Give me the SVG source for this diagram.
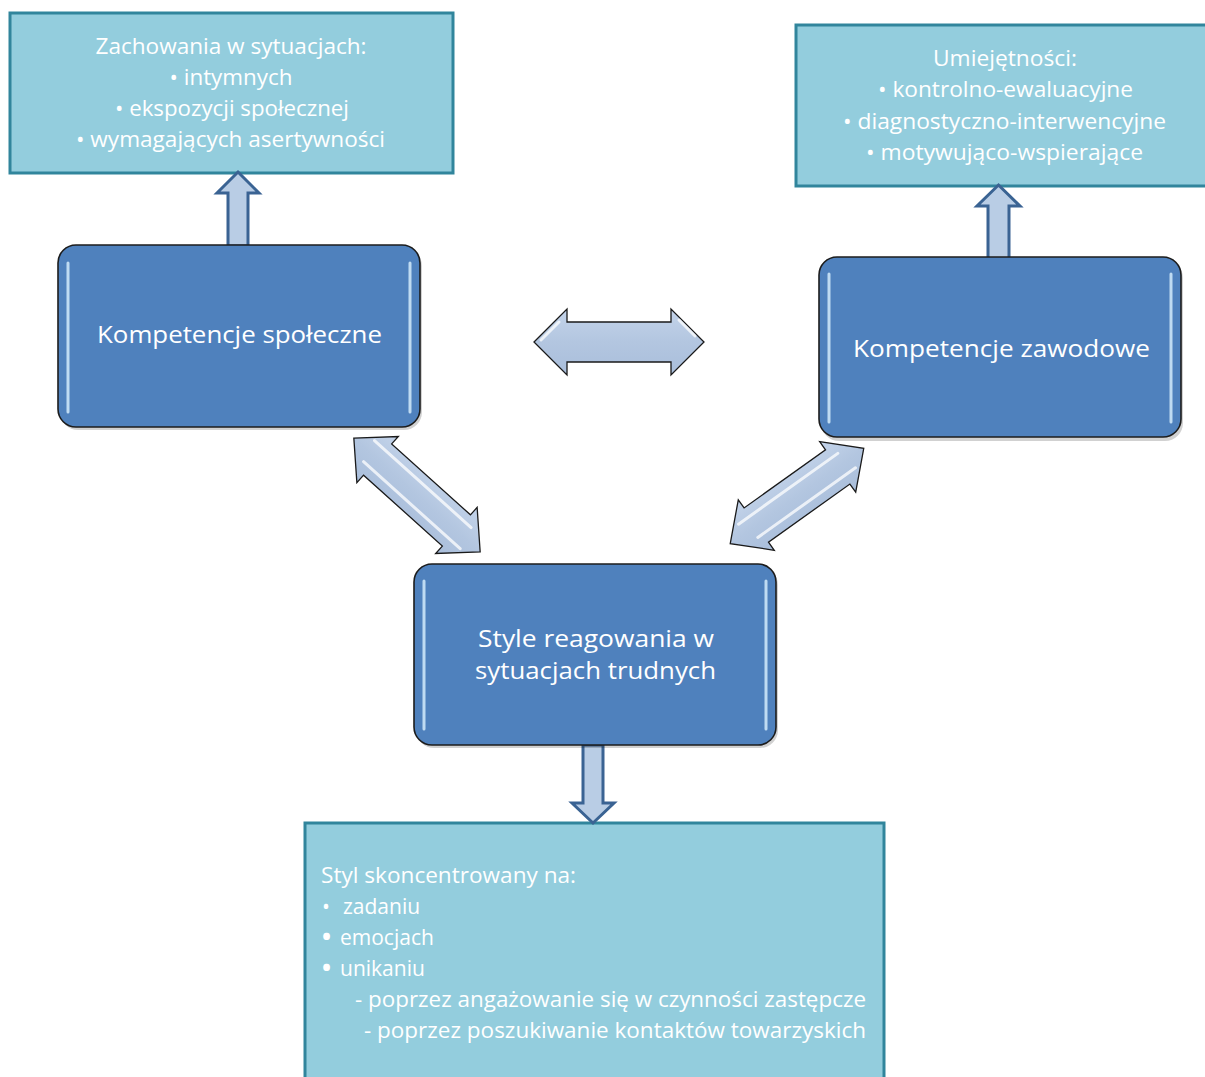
<svg xmlns="http://www.w3.org/2000/svg" width="1205" height="1077" viewBox="0 0 1205 1077">
<style>
.lbox{fill:#93CDDD;stroke:#31859C;stroke-width:3}
.node{fill:#4F81BD;stroke:#1c1c1c;stroke-width:1.6}
.shadow{fill:#000;opacity:0.18}
.hl{stroke:#d2ebfb;stroke-width:3;stroke-linecap:round;opacity:0.85;fill:none}
.t{font-family:"Open Sans","Noto Sans","Liberation Sans",sans-serif;fill:#ffffff}
.s22{font-size:21px}
.s24{font-size:23px}
.c{text-anchor:middle}
.bb{font-weight:bold;font-size:24px}
.blk{fill:#B9CDE5;stroke:#3A6393;stroke-width:3;stroke-linejoin:miter}
.dbl{fill:url(#ag);stroke:#1a1a1a;stroke-width:1.3;stroke-linejoin:miter}
.dhl{stroke:#ffffff;stroke-width:3;stroke-linecap:round;opacity:0.75;fill:none}
</style>
<defs>
<linearGradient id="ag" x1="0" y1="0" x2="0" y2="1">
<stop offset="0" stop-color="#c4d4ea"/>
<stop offset="0.5" stop-color="#b3c6e0"/>
<stop offset="1" stop-color="#a9bedb"/>
</linearGradient>
<linearGradient id="ng" x1="0" y1="0" x2="0" y2="1">
<stop offset="0" stop-color="#5586c2"/>
<stop offset="0.15" stop-color="#4F81BD"/>
<stop offset="1" stop-color="#4C7EBA"/>
</linearGradient>
</defs>

<g id="box-zachowania">
<rect class="lbox" x="10" y="13" width="443" height="160"/>
<text class="t s22 c" x="231" y="54" textLength="271" lengthAdjust="spacingAndGlyphs">Zachowania w sytuacjach:</text>
<text class="t s22 c" x="231" y="85" textLength="123" lengthAdjust="spacingAndGlyphs">• intymnych</text>
<text class="t s22 c" x="232" y="116" textLength="234" lengthAdjust="spacingAndGlyphs">• ekspozycji społecznej</text>
<text class="t s22 c" x="230.5" y="147" textLength="309" lengthAdjust="spacingAndGlyphs">• wymagających asertywności</text>
</g>

<g id="box-umiejetnosci">
<rect class="lbox" x="796" y="25" width="420" height="161"/>
<text class="t s22 c" x="1005" y="66" textLength="144" lengthAdjust="spacingAndGlyphs">Umiejętności:</text>
<text class="t s22 c" x="1005.5" y="97" textLength="255" lengthAdjust="spacingAndGlyphs">• kontrolno-ewaluacyjne</text>
<text class="t s22 c" x="1004.5" y="129" textLength="323" lengthAdjust="spacingAndGlyphs">• diagnostyczno-interwencyjne</text>
<text class="t s22 c" x="1004.5" y="160" textLength="277" lengthAdjust="spacingAndGlyphs">• motywująco-wspierające</text>
</g>

<g id="box-styl">
<rect class="lbox" x="305" y="823" width="579" height="262"/>
<text class="t s22" x="321" y="883" textLength="255" lengthAdjust="spacingAndGlyphs">Styl skoncentrowany na:</text>
<text class="t s22" y="914"><tspan x="322">•</tspan><tspan x="343">zadaniu</tspan></text>
<text class="t s22" y="945"><tspan x="322" class="bb">•</tspan><tspan x="340">emocjach</tspan></text>
<text class="t s22" y="976"><tspan x="322" class="bb">•</tspan><tspan x="340">unikaniu</tspan></text>
<text class="t s22" x="355" y="1007" textLength="511" lengthAdjust="spacingAndGlyphs">- poprzez angażowanie się w czynności zastępcze</text>
<text class="t s22" x="364" y="1038" textLength="502" lengthAdjust="spacingAndGlyphs">- poprzez poszukiwanie kontaktów towarzyskich</text>
</g>

<g id="connectors">
<polygon class="blk" points="238,172 259,193 248,193 248,246 228,246 228,193 217,193"/>
<polygon class="blk" points="998.5,185 1020,206 1009,206 1009,259 988,259 988,206 977,206"/>
<polygon class="blk" points="583,745 603,745 603,803 614,803 593,823 572,803 583,803"/>
<g transform="translate(619,342)">
<polygon class="dbl" points="-85,0 -52,-33 -52,-20 52,-20 52,-33 85,0 52,33 52,20 -52,20 -52,33"/>
<path class="dhl" d="M-78,-2 L-60,-20 M60,-22 L76,-6" opacity="0.5"/>
</g>
<g transform="translate(417,495) rotate(42)">
<polygon class="dbl" points="-85,0 -53,-31 -53,-21 53,-21 53,-31 85,0 53,31 53,21 -53,21 -53,31"/>
<path class="dhl" d="M-68,-12 L62,-12 M-62,11 L68,11"/>
</g>
<g transform="translate(797,496) rotate(-35.5)">
<polygon class="dbl" points="-82,0 -50,-31 -50,-21 50,-21 50,-31 82,0 50,31 50,21 -50,21 -50,31"/>
<path class="dhl" d="M-64,-11 L58,-11 M-56,11 L64,11"/>
</g>
</g>

<g id="node-spoleczne">
<rect class="shadow" x="60" y="248" width="362" height="182" rx="18"/>
<rect class="node" x="58" y="245" width="362" height="182" rx="18" fill="url(#ng)"/>
<path class="hl" d="M68,263 V412 M410,263 V412"/>
<text class="t s24 c" x="239.5" y="343" textLength="285" lengthAdjust="spacingAndGlyphs">Kompetencje społeczne</text>
</g>

<g id="node-zawodowe">
<rect class="shadow" x="821" y="260" width="362" height="181" rx="18"/>
<rect class="node" x="819" y="257" width="362" height="180" rx="18"/>
<path class="hl" d="M829,274 V422 M1171,274 V422"/>
<text class="t s24 c" x="1001.5" y="357" textLength="297" lengthAdjust="spacingAndGlyphs">Kompetencje zawodowe</text>
</g>

<g id="node-style">
<rect class="shadow" x="416" y="567" width="362" height="181" rx="18"/>
<rect class="node" x="414" y="564" width="362" height="181" rx="18"/>
<path class="hl" d="M424,581 V729 M766,581 V729"/>
<text class="t s24 c" x="596" y="647" textLength="236" lengthAdjust="spacingAndGlyphs">Style reagowania w</text>
<text class="t s24 c" x="595.5" y="679" textLength="241" lengthAdjust="spacingAndGlyphs">sytuacjach trudnych</text>
</g>
</svg>
